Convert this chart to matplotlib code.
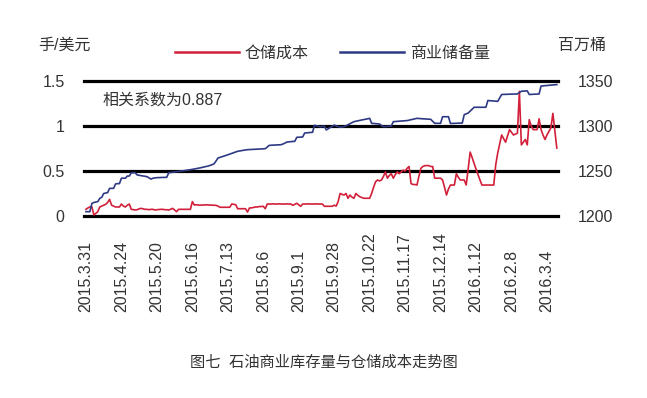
import numpy as np
import matplotlib
matplotlib.use("Agg")
import matplotlib.pyplot as plt

plt.rcParams['font.family'] = ['Liberation Sans', 'Noto Sans CJK SC', 'DejaVu Sans']

# ---- data (trading-day series) ----
tick_labels = ["2015.3.31", "2015.4.24", "2015.5.20", "2015.6.16", "2015.7.13",
               "2015.8.6", "2015.9.1", "2015.9.28", "2015.10.22", "2015.11.17",
               "2015.12.14", "2016.1.12", "2016.2.8", "2016.3.4"]
tick_step = 18

storage_cost = [
    0.074, 0.09, 0.10, 0.103, 0.011, 0.03, 0.048, 0.10, 0.11, 0.12,
    0.13, 0.15, 0.185, 0.12, 0.11, 0.10, 0.10, 0.10, 0.133, 0.11,
    0.10, 0.12, 0.133, 0.074, 0.07, 0.067, 0.07, 0.08, 0.085, 0.08,
    0.074, 0.074, 0.07, 0.074, 0.074, 0.067, 0.07, 0.072, 0.074, 0.074,
    0.07, 0.07, 0.067, 0.075, 0.085, 0.067, 0.048, 0.074, 0.074, 0.074,
    0.074, 0.074, 0.074, 0.074, 0.16, 0.122, 0.125, 0.122, 0.12, 0.122,
    0.122, 0.125, 0.122, 0.122, 0.12, 0.12, 0.118, 0.11, 0.097, 0.097,
    0.097, 0.097, 0.097, 0.097, 0.133, 0.13, 0.126, 0.081, 0.081, 0.081,
    0.081, 0.081, 0.044, 0.089, 0.09, 0.095, 0.10, 0.10, 0.105, 0.105,
    0.108, 0.081, 0.133, 0.133, 0.133, 0.135, 0.133, 0.133, 0.135, 0.133,
    0.133, 0.133, 0.135, 0.133, 0.133, 0.119, 0.13, 0.141, 0.125, 0.108,
    0.133, 0.133, 0.133, 0.135, 0.133, 0.133, 0.133, 0.135, 0.133, 0.133,
    0.133, 0.108, 0.108, 0.108, 0.108, 0.108, 0.12, 0.11, 0.16, 0.25,
    0.24, 0.233, 0.25, 0.197, 0.233, 0.21, 0.197, 0.25, 0.23, 0.214,
    0.205, 0.197, 0.197, 0.197, 0.197, 0.25, 0.32, 0.38, 0.40, 0.39,
    0.40, 0.44, 0.49, 0.42, 0.45, 0.47, 0.42, 0.46, 0.49, 0.47,
    0.49, 0.51, 0.50, 0.53, 0.55, 0.36, 0.35, 0.35, 0.344, 0.44,
    0.53, 0.55, 0.56, 0.56, 0.56, 0.55, 0.55, 0.42, 0.42, 0.42,
    0.42, 0.40, 0.32, 0.233, 0.30, 0.344, 0.344, 0.344, 0.47, 0.43,
    0.40, 0.40, 0.40, 0.344, 0.52, 0.71, 0.65, 0.585, 0.52, 0.46,
    0.40, 0.344, 0.344, 0.344, 0.344, 0.344, 0.344, 0.344, 0.57, 0.70,
    0.80, 0.90, 0.86, 0.82, 0.89, 0.96, 0.93, 0.90, 0.91, 0.92,
    1.385, 0.79, 0.82, 0.85, 0.79, 1.07, 1.0, 0.96, 0.96, 0.96,
    1.08, 0.96, 0.90, 0.85, 0.90, 0.94, 0.98, 1.14, 0.95, 0.755,
]

commercial_stock = [
    1204.8, 1204.8, 1204.8, 1214, 1215, 1215.5, 1216, 1219.6, 1220.8, 1225,
    1225.5, 1226, 1230.7, 1230.7, 1230.7, 1235.6, 1236, 1236, 1242, 1242,
    1242, 1244.4, 1244.4, 1248, 1248, 1248, 1245.6, 1245.2, 1244.8, 1244.4,
    1244, 1243.7, 1242.3, 1241, 1242, 1242.3, 1242.6, 1242.7, 1242.8, 1242.9,
    1243, 1243, 1248, 1248.3, 1248.6, 1248.9, 1249.2, 1249.5, 1249.8, 1250.1,
    1250.4, 1250.7, 1251, 1251.4, 1251.8, 1252.2, 1252.6, 1253, 1253.5, 1254,
    1254.5, 1255, 1255.5, 1256.2, 1257, 1258, 1261, 1264.4, 1265.1, 1265.8,
    1266.5, 1267.2, 1268, 1268.8, 1269.6, 1270.4, 1271.2, 1271.9, 1272.3, 1272.7,
    1273, 1273.4, 1273.7, 1273.8, 1273.9, 1274, 1274.1, 1274.3, 1274.4, 1274.5,
    1274.7, 1274.8, 1276.5, 1278.5, 1278.6, 1278.7, 1278.8, 1278.9, 1279, 1279.2,
    1280, 1281, 1282.2, 1282.4, 1282.6, 1282.8, 1283, 1287.4, 1287.5, 1287.6,
    1287.8, 1292.2, 1292.4, 1292.6, 1292.8, 1293, 1300.8, 1300.2, 1299.7, 1299.2,
    1299.4, 1299.7, 1295.6, 1297, 1298.3, 1299.7, 1301, 1300.2, 1299.4, 1298.6,
    1298.9, 1299.2, 1300.3, 1301.4, 1302.5, 1303.7, 1304.8, 1305.3, 1305.8, 1306.2,
    1306.7, 1307.1, 1307.6, 1308, 1308.5, 1303, 1302.8, 1302.6, 1302.4, 1302.2,
    1300.7, 1299.2, 1299.4, 1299.6, 1299.8, 1300, 1304.8, 1305, 1305.2, 1305.4,
    1305.5, 1305.7, 1305.8, 1306, 1306.5, 1307, 1307.5, 1308, 1308.5, 1308.3,
    1308.2, 1308, 1307.9, 1307.7, 1307.6, 1307.4, 1305.2, 1303, 1303, 1303,
    1303, 1310.3, 1310.3, 1310.3, 1310.3, 1302.8, 1302.9, 1303, 1303, 1303.1,
    1303.2, 1303.3, 1312.6, 1313.5, 1314.4, 1316.5, 1318.7, 1320.8, 1320.8, 1320.8,
    1320.8, 1320.8, 1320.8, 1320.8, 1328.3, 1328.1, 1327.9, 1327.7, 1327.5, 1327.4,
    1331.2, 1335, 1335.1, 1335.2, 1335.3, 1335.3, 1335.4, 1335.5, 1335.5, 1335.6,
    1337.1, 1338.6, 1338.7, 1338.9, 1339, 1335, 1335.1, 1335.2, 1335.4, 1335.5,
    1335.6, 1344.4, 1344.6, 1344.8, 1345, 1345.2, 1345.4, 1345.6, 1345.8, 1346,
]

left_ticks = [0, 0.5, 1, 1.5]
left_tick_labels = ["0", "0.5", "1", "1.5"]
right_ticks = [1200, 1250, 1300, 1350]

RED = "#d2203a"
BLUE = "#2e3984"
TXT = "#333333"
FS = 11.5

W, H = 647, 398
fig = plt.figure(figsize=(W / 100, H / 100), dpi=100)
ax_l, ax_r, ax_t, ax_b = 84, 558, 81, 216
ax = fig.add_axes([ax_l / W, 1 - ax_b / H, (ax_r - ax_l) / W, (ax_b - ax_t) / H])
ax2 = ax.twinx()

x_cost = np.arange(len(storage_cost))
x_stock = np.arange(len(commercial_stock))

for yv in left_ticks:
    ax.axhline(yv, color="black", lw=2.3, clip_on=False, zorder=1)

l1, = ax.plot(x_cost, storage_cost, color=RED, lw=1.2, zorder=3, label="仓储成本")
l2, = ax2.plot(x_stock, commercial_stock, color=BLUE, lw=1.2, zorder=3, label="商业储备量")

ax.set_xlim(-1, 239.6)
ax.set_ylim(0, 1.5)
ax2.set_ylim(1200, 1350)

ax.set_yticks(left_ticks)
ax.set_yticklabels(left_tick_labels)
ax2.set_yticks(right_ticks)

xt = np.arange(len(tick_labels)) * tick_step
ax.set_xticks(xt)
ax.set_xticklabels(tick_labels)

for a in (ax, ax2):
    for s in a.spines.values():
        s.set_visible(False)
    a.tick_params(length=0, labelsize=FS, colors=TXT)
ax.tick_params(axis='y', pad=14)
ax2.tick_params(axis='y', pad=14)
ax.tick_params(axis='x', pad=69)
plt.setp(ax.get_xticklabels(), rotation=90, va='bottom', ha='center')

# unit labels
fig.text(38 / W, 1 - 45 / H, "手/美元", fontsize=FS, color=TXT, ha='left', va='center')
fig.text(558 / W, 1 - 45 / H, "百万桶", fontsize=FS, color=TXT, ha='left', va='center')

# annotation
ax.text(103 / W, 1 - 100 / H, "相关系数为0.887", transform=fig.transFigure,
        fontsize=FS, color=TXT, ha='left', va='center')

# legend
fig.legend(handles=[l1, l2], loc='center left', bbox_to_anchor=(175 / W, 1 - 53 / H),
           ncol=2, frameon=False, fontsize=FS, handlelength=4.0, handletextpad=0.35,
           columnspacing=2.0, borderpad=0, borderaxespad=0, labelcolor=TXT)
for lh in fig.legends[0].get_lines():
    lh.set_linewidth(1.8)

# caption
fig.text(190 / W, 1 - 363 / H, "图七  石油商业库存量与仓储成本走势图", fontsize=11, color=TXT,
         ha='left', va='center')

fig.savefig("out.png", dpi=100, facecolor="white")
